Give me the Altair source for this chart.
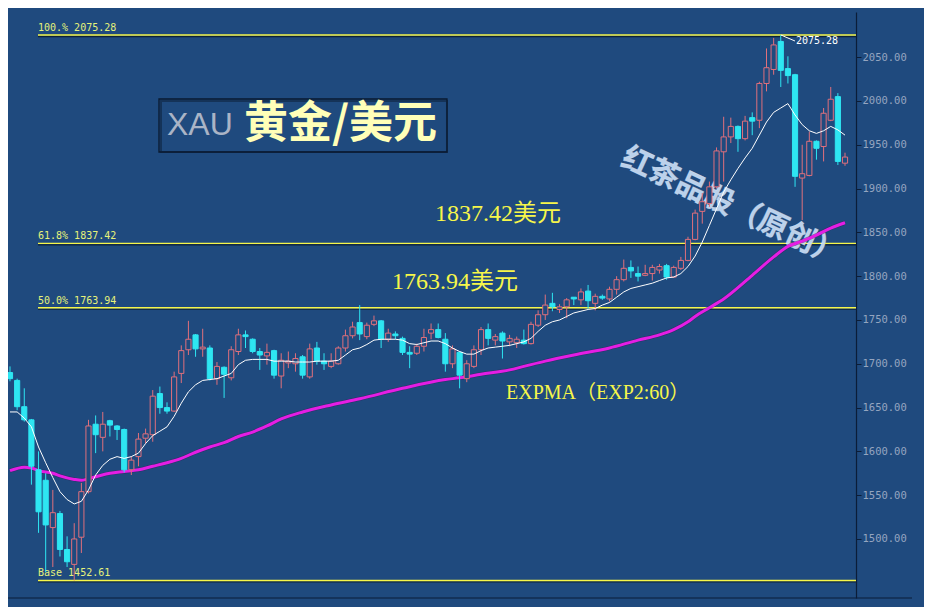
import altair as alt
import pandas as pd

# ---------------- data ----------------
opens = [1690, 1681, 1651, 1636, 1579, 1567, 1513, 1529, 1488, 1471,
         1502, 1554, 1631, 1616, 1635, 1629, 1625, 1579, 1594, 1615,
         1619, 1666, 1650, 1646, 1689, 1716, 1733, 1717, 1718, 1683,
         1696, 1684, 1714, 1733, 1728, 1714, 1709, 1715, 1686, 1701,
         1700, 1708, 1685, 1718, 1703, 1697, 1700, 1718, 1732, 1747,
         1731, 1745, 1749, 1728, 1734, 1729, 1713, 1712, 1720, 1735,
         1739, 1728, 1700, 1713, 1683, 1697, 1716, 1739, 1727, 1735,
         1725, 1724, 1727, 1723, 1744, 1756, 1769, 1762, 1765, 1776,
         1773, 1783, 1769, 1777, 1774, 1785, 1796, 1810, 1803, 1801,
         1803, 1807, 1812, 1799, 1809, 1818, 1842, 1874, 1883, 1902,
         1942, 1959, 1971, 1957, 1981, 1978, 2020, 2036, 2068, 2037,
         2030, 1912, 1915, 1954, 1948, 1978, 2005, 1929]
highs = [1697, 1683, 1672, 1637, 1600, 1575, 1556, 1532, 1503, 1518,
         1564, 1636, 1641, 1645, 1636, 1630, 1626, 1594, 1621, 1626,
         1670, 1674, 1656, 1691, 1721, 1749, 1734, 1740, 1721, 1702,
         1697, 1720, 1740, 1738, 1729, 1718, 1723, 1716, 1712, 1714,
         1712, 1710, 1723, 1725, 1712, 1712, 1720, 1739, 1748, 1767,
         1747, 1755, 1750, 1740, 1737, 1731, 1720, 1723, 1740, 1746,
         1746, 1735, 1721, 1714, 1704, 1721, 1742, 1746, 1734, 1737,
         1733, 1731, 1739, 1748, 1761, 1779, 1781, 1768, 1775, 1776,
         1786, 1790, 1780, 1779, 1788, 1800, 1819, 1818, 1811, 1813,
         1813, 1814, 1814, 1812, 1822, 1845, 1876, 1895, 1908, 1947,
         1982, 1981, 1972, 1983, 1987, 2022, 2060, 2072, 2075.28, 2051,
         2031, 1950, 1965, 1955, 1992, 2016, 2009, 1941]
lows = [1680, 1647, 1634, 1562, 1507, 1462, 1468, 1480, 1468, 1452.61,
        1484, 1552, 1598, 1600, 1617, 1613, 1576, 1573, 1583, 1609,
        1611, 1643, 1643, 1645, 1678, 1710, 1708, 1708, 1681, 1676,
        1661, 1681, 1710, 1718, 1712, 1693, 1699, 1683, 1672, 1695,
        1691, 1683, 1683, 1699, 1693, 1695, 1699, 1714, 1729, 1727,
        1728, 1743, 1718, 1725, 1728, 1710, 1695, 1710, 1714, 1728,
        1729, 1691, 1695, 1672, 1679, 1695, 1710, 1721, 1721, 1706,
        1720, 1718, 1722, 1722, 1742, 1750, 1760, 1758, 1752, 1767,
        1767, 1763, 1761, 1773, 1771, 1779, 1794, 1798, 1794, 1800,
        1795, 1803, 1796, 1798, 1807, 1817, 1841, 1860, 1879, 1900,
        1908, 1952, 1942, 1955, 1961, 1969, 2011, 2030, 2016, 2020,
        1902, 1864, 1914, 1933, 1931, 1977, 1927, 1926]
closes = [1683, 1651, 1636, 1583, 1531, 1516, 1530, 1488, 1474, 1500,
          1554, 1629, 1619, 1631, 1630, 1625, 1579, 1590, 1614, 1620,
          1663, 1650, 1646, 1685, 1715, 1728, 1717, 1719, 1683, 1697,
          1688, 1716, 1733, 1731, 1714, 1710, 1713, 1687, 1704, 1703,
          1706, 1687, 1717, 1703, 1700, 1703, 1718, 1732, 1742, 1734,
          1744, 1749, 1728, 1735, 1732, 1713, 1711, 1720, 1730, 1739,
          1730, 1700, 1717, 1687, 1700, 1716, 1739, 1729, 1731, 1726,
          1729, 1728, 1723, 1745, 1756, 1767, 1765, 1765, 1773, 1774,
          1782, 1772, 1777, 1775, 1785, 1796, 1809, 1806, 1800, 1803,
          1810, 1811, 1799, 1810, 1818, 1842, 1872, 1885, 1902, 1943,
          1959, 1971, 1957, 1977, 1977, 2020, 2038, 2064, 2035, 2029,
          1914, 1917, 1954, 1946, 1986, 2002, 1931, 1936]
ema_short = [1645, 1645, 1638, 1628, 1605, 1587, 1570, 1554, 1545, 1540,
             1543, 1556, 1573, 1584, 1591, 1594, 1592, 1594, 1598, 1609,
             1618, 1623, 1628, 1640, 1655, 1668, 1676, 1681, 1682, 1683,
             1686, 1689, 1699, 1704, 1705, 1705, 1705, 1703, 1703, 1703,
             1702, 1702, 1702, 1703, 1703, 1703, 1704, 1710, 1716, 1718,
             1722, 1727, 1728, 1728, 1728, 1727, 1723, 1722, 1724, 1726,
             1726, 1723, 1718, 1714, 1711, 1711, 1715, 1718, 1719, 1720,
             1721, 1723, 1725, 1729, 1737, 1744, 1748, 1750, 1754, 1758,
             1760, 1762, 1763, 1767, 1770, 1776, 1782, 1786, 1788, 1790,
             1792, 1795, 1798, 1799, 1803, 1811, 1823, 1839, 1858, 1877,
             1896, 1910, 1923, 1935, 1946, 1961, 1976, 1987, 1992, 1997,
             1984, 1973, 1966, 1963, 1966, 1971, 1967, 1961]
ema60_idx = [0, 2, 3, 4, 6, 7, 9, 10, 12, 14, 16, 18, 20, 22, 24, 26, 28,
             30, 32, 34, 36, 38, 41, 45, 49, 55, 61, 63, 66, 70, 72, 75,
             79, 84, 88, 91, 93, 95, 96, 98, 100, 104, 107, 109, 111, 113,
             115, 117]
ema60_val = [1578, 1582, 1581, 1578, 1575, 1572, 1568, 1567, 1571, 1575,
             1577, 1579, 1583, 1587, 1592, 1599, 1605, 1610, 1617, 1622,
             1629, 1637, 1645, 1653, 1660, 1672, 1682, 1684, 1688, 1693,
             1697, 1703, 1710, 1718, 1727, 1733, 1739, 1748, 1754, 1764,
             1774, 1801, 1822, 1834, 1840, 1847, 1855, 1861]

fib_levels = [2075.28, 1837.42, 1763.94, 1452.61]
fib_labels = ["100.% 2075.28", "61.8% 1837.42", "50.0% 1763.94", "Base  1452.61"]
y_ticks = [1500, 1550, 1600, 1650, 1700, 1750, 1800, 1850, 1900, 1950, 2000, 2050]

# ---------------- styling ----------------
BG = "#1f4a7e"
RED = "#e0707c"
CYAN = "#2ee6f2"
YEL = "#f6f64a"
DARK = "#0b1d38"
W, H = 848, 586
XDOM = [-0.28, 118.54]
YDOM = [1432.6, 2101.6]
xs = alt.Scale(domain=XDOM, nice=False, zero=False)
ys = alt.Scale(domain=YDOM, nice=False, zero=False)
YAX = alt.Axis(orient="right", values=y_ticks, format=".2f", grid=False,
               labelColor="#95a5c0", labelFont="DejaVu Sans Mono", labelFontSize=10.5,
               labelPadding=1, tickSize=5, tickColor=DARK, domainColor=DARK,
               domainWidth=1.2, title=None)


def X(field):
    return alt.X(field, scale=xs, axis=None)


def Y(field):
    return alt.Y(field, scale=ys, axis=YAX)


def ix(px):
    return (px - 10) / 7.137


def pv(py):
    return 2000 - (py - 101) / 0.876


n = len(opens)
df = pd.DataFrame({"i": list(range(n)), "open": opens, "high": highs,
                   "low": lows, "close": closes, "ema": ema_short})
df["dir"] = ["up" if c >= o else "down" for o, c in zip(opens, closes)]
df["x0"] = df["i"] - 0.36
df["x1"] = df["i"] + 0.36

dir_dom = ["up", "down"]

wick = alt.Chart(df).mark_rule(strokeWidth=1).encode(
    x=X("i:Q"), y=Y("low:Q"), y2="high:Q",
    color=alt.Color("dir:N", scale=alt.Scale(domain=dir_dom, range=[RED, CYAN]), legend=None),
)

body = alt.Chart(df).mark_rect(strokeWidth=1).encode(
    x=X("x0:Q"), x2="x1:Q", y=Y("open:Q"), y2="close:Q",
    fill=alt.Fill("dir:N", scale=alt.Scale(domain=dir_dom, range=[BG, CYAN]), legend=None),
    stroke=alt.Stroke("dir:N", scale=alt.Scale(domain=dir_dom, range=[RED, CYAN]), legend=None),
)

ema_line = alt.Chart(df).mark_line(color="white", strokeWidth=1).encode(
    x=X("i:Q"), y=Y("ema:Q"))

df60 = pd.DataFrame({"i": ema60_idx, "v": ema60_val})
ema60_shadow = alt.Chart(df60).mark_line(color="#3a1850", strokeWidth=4, opacity=0.5,
                                         interpolate="monotone").encode(
    x=X("i:Q"), y=Y("v:Q"))
ema60 = alt.Chart(df60).mark_line(color="#e41ee4", strokeWidth=3,
                                  interpolate="monotone").encode(
    x=X("i:Q"), y=Y("v:Q"))

dff = pd.DataFrame({"lvl": fib_levels, "label": fib_labels})
dff["x0"] = ix(38)
dff["x1"] = XDOM[1]
fib_shadow = alt.Chart(dff).mark_rule(color="#0e2238", strokeWidth=1.2, yOffset=1.5).encode(
    x=X("x0:Q"), x2="x1:Q", y=Y("lvl:Q"))
fib = alt.Chart(dff).mark_rule(color=YEL, strokeWidth=1.4).encode(
    x=X("x0:Q"), x2="x1:Q", y=Y("lvl:Q"))
fib_text = alt.Chart(dff).mark_text(align="left", baseline="bottom", dy=-2,
                                    font="DejaVu Sans Mono", fontSize=10,
                                    color="#e6f27a").encode(
    x=X("x0:Q"), y=Y("lvl:Q"), text="label:N")


def label(text, px, py, color, size, font, weight="normal", align="left"):
    d = pd.DataFrame([{"x": ix(px), "y": pv(py), "t": text}])
    return alt.Chart(d).mark_text(
        align=align, baseline="middle", font=font, fontSize=size,
        fontWeight=weight, color=color).encode(
        x=X("x:Q"), y=Y("y:Q"), text="t:N")


SERIF = "Liberation Serif, Noto Sans CJK SC"
CJK = "Noto Sans CJK SC"

# title box
box_d = pd.DataFrame([{"x0": ix(159), "x1": ix(447), "y0": pv(99), "y1": pv(152)}])
box_sh = alt.Chart(box_d).mark_rect(fillOpacity=0, stroke="#0f2440", strokeWidth=2,
                                    strokeOpacity=0.6, xOffset=2, yOffset=2).encode(
    x=X("x0:Q"), x2="x1:Q", y=Y("y0:Q"), y2="y1:Q")
box = alt.Chart(box_d).mark_rect(fillOpacity=0, stroke="#0a1a30", strokeWidth=1.3).encode(
    x=X("x0:Q"), x2="x1:Q", y=Y("y0:Q"), y2="y1:Q")

texts = [
    label("XAU", 167, 125, "#aab4c6", 32, "Liberation Sans"),
    label("黄金/美元", 244, 125, "#ffffb8", 44, CJK, weight="bold"),
    label("1837.42美元", 435, 214, YEL, 24, SERIF),
    label("1763.94美元", 392, 282, YEL, 24, SERIF),
    label("EXPMA（EXP2:60）", 506, 393, YEL, 20, SERIF),
]

# watermark
wm_d = pd.DataFrame([{"x": ix(732), "y": pv(207), "t": "红茶品股（原创）"}])
wm = alt.Chart(wm_d).mark_text(align="center", baseline="middle", font=CJK,
                               fontSize=30, fontWeight="bold", angle=25,
                               color="#c4d9f1", opacity=0.95,
                               stroke="#e8f2ff", strokeWidth=0.6, strokeOpacity=0.5).encode(
    x=X("x:Q"), y=Y("y:Q"), text="t:N")

# high label with leader
hl_d = pd.DataFrame([{"x": ix(781), "y": 2075.28, "x2": ix(795), "y2": pv(41)}])
hl_line = alt.Chart(hl_d).mark_rule(color="white", strokeWidth=1).encode(
    x=X("x:Q"), y=Y("y:Q"), x2="x2:Q", y2="y2:Q")
hl_text = label("2075.28", 796, 41, "white", 10, "DejaVu Sans Mono")

bottom = alt.Chart(pd.DataFrame([{"a": 1}])).mark_rule(color=DARK, strokeWidth=1.2).encode(
    x=alt.value(0), x2=alt.value(904), y=alt.value(H))

chart = alt.layer(
    fib_shadow, fib, fib_text, box_sh, box, *texts, wm,
    ema60_shadow, ema60, wick, body, ema_line, hl_line, hl_text, bottom
).properties(
    width=W, height=H,
    padding={"left": 0, "top": 4, "right": 68, "bottom": 9},
    autosize=alt.AutoSizeParams(type="none"),
).configure(background=BG).configure_view(stroke=None)

chart.save("out.html", embed_options={"renderer": "svg", "actions": False})
